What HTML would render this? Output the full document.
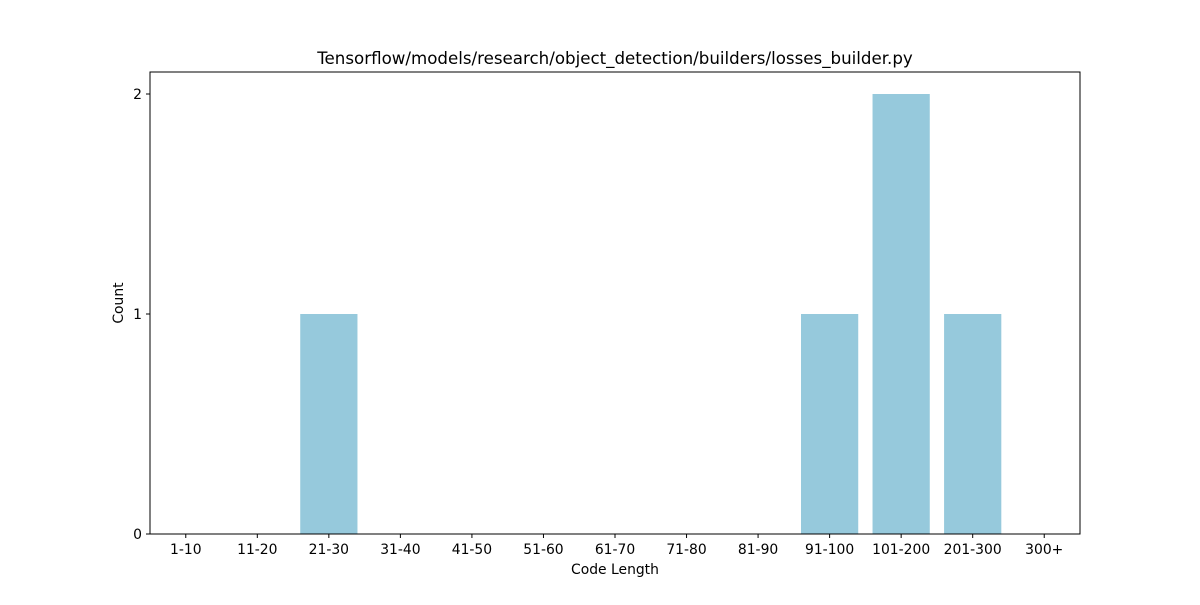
<!DOCTYPE html>
<html><head><meta charset="utf-8"><style>
body{margin:0;background:#fff;}
svg text{font-family:"DejaVu Sans","Liberation Sans",sans-serif;fill:#000;}
</style></head><body>
<svg width="1200" height="600" viewBox="0 0 1200 600">
<text x="615" y="64" font-size="16.67" text-anchor="middle">Tensorflow/models/research/object_detection/builders/losses_builder.py</text>
<g id="bars"></g>
<g id="xt"></g>
<g id="yt"></g>
<rect x="150" y="72" width="930" height="462" fill="none" stroke="#000" stroke-width="1"/>
<text x="615" y="574" font-size="13.9" text-anchor="middle">Code Length</text>
<text x="123" y="303" font-size="13.9" text-anchor="middle" transform="rotate(-90 123 303)">Count</text>
</svg>
<script>
const categories=["1-10","11-20","21-30","31-40","41-50","51-60","61-70","71-80","81-90","91-100","101-200","201-300","300+"];
const counts=[0,0,1,0,0,0,0,0,0,1,2,1,0];
const yTicks=[0,1,2];
const NS="http://www.w3.org/2000/svg";
const x0=150,x1=1080,yB=534,yT=72,yMax=2.1;
const step=(x1-x0)/categories.length;
const xc=i=>x0+step*(i+0.5);
const ys=v=>yB-(v/yMax)*(yB-yT);
const bw=step*0.8;
const bars=document.getElementById('bars'),xt=document.getElementById('xt'),yt=document.getElementById('yt');
function mk(t,a){const e=document.createElementNS(NS,t);for(const k in a)e.setAttribute(k,a[k]);return e;}
categories.forEach((c,i)=>{
 const v=counts[i];
 const r=mk('rect',{x:xc(i)-bw/2,y:ys(v),width:bw,height:yB-ys(v),fill:'#96c9dc'});
 
 
 bars.appendChild(r);
 const tk=mk('line',{x1:xc(i),x2:xc(i),y1:yB,y2:yB+4,stroke:'#000'});
 
 
 xt.appendChild(tk);
 const t=mk('text',{x:xc(i),y:yB+20,'font-size':13.9,'text-anchor':'middle'});
 t.textContent=c;
 
 
 xt.appendChild(t);
});
yTicks.forEach(v=>{
 const tk=mk('line',{x1:x0-4,x2:x0,y1:ys(v),y2:ys(v),stroke:'#000'});
 
 
 yt.appendChild(tk);
 const t=mk('text',{x:x0-8,y:ys(v)+5,'font-size':13.9,'text-anchor':'end'});
 t.textContent=v;
 
 
 yt.appendChild(t);
});
</script>
</body></html>
